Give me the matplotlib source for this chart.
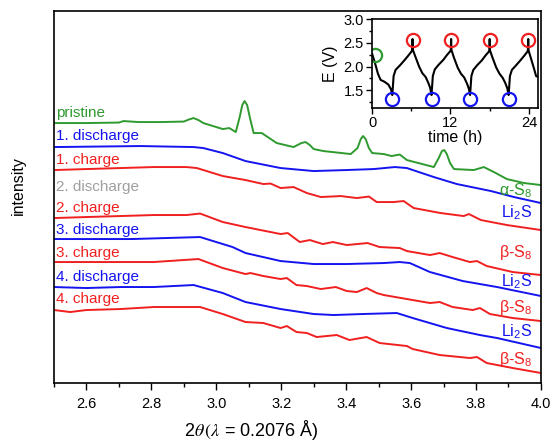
import matplotlib
matplotlib.use('Agg')
import matplotlib.pyplot as plt
from matplotlib.ticker import MultipleLocator

# FONT STUFF
plt.rcParams['font.family'] = ['Liberation Sans', 'DejaVu Sans']
plt.rcParams['mathtext.fontset'] = 'custom'
plt.rcParams['mathtext.rm'] = 'Liberation Sans'
plt.rcParams['mathtext.it'] = 'Liberation Sans:italic'

GREEN = '#2f9a2f'
BLUE = '#1414f0'
RED = '#f02020'
GRAY = '#a0a0a0'

# ---------------- XRD PATTERNS (2theta, intensity a.u., already stacked) ----------------
pristine_x = [2.50, 2.60, 2.70, 2.714, 2.76, 2.83, 2.90, 2.915, 2.93, 2.945, 2.96, 3.02, 3.04, 3.06,
              3.072, 3.08, 3.087, 3.095, 3.103, 3.115, 3.14, 3.186, 3.238, 3.262, 3.275, 3.288,
              3.30, 3.33, 3.414, 3.435, 3.445, 3.452, 3.46, 3.47, 3.48,
              3.516, 3.54, 3.565, 3.587, 3.67, 3.685, 3.695, 3.702, 3.71, 3.72, 3.732, 3.793, 3.824,
              3.855, 3.895, 3.948, 4.00]
pristine_y = [26.0, 26.0, 26.05, 26.2, 26.1, 26.1, 26.15, 26.35, 26.5, 26.3, 26.0, 25.4, 25.5, 25.1,
              26.6, 27.8, 28.2, 27.8, 26.6, 25.0, 25.0, 24.0, 23.6, 24.0, 24.1, 23.8,
              23.4, 23.2, 22.9, 23.5, 24.4, 24.7, 24.4, 23.5, 23.0,
              22.9, 22.7, 22.85, 22.3, 21.6, 22.5, 23.2, 23.3, 22.9, 22.0, 21.4, 21.3, 21.6,
              21.1, 20.4, 20.0, 19.8]

dis1_x = [2.50, 2.767, 2.93, 2.96, 3.02, 3.09, 3.198, 3.30, 3.40, 3.485, 3.55, 3.587, 3.67, 3.741,
          3.846, 3.917, 4.00]
dis1_y = [23.6, 23.7, 23.6, 23.5, 23.0, 22.2, 21.5, 21.2, 21.3, 21.4, 21.6, 21.5, 20.6, 19.9,
          19.2, 18.6, 18.0]

ch1_x = [2.50, 2.60, 2.705, 2.807, 2.908, 2.94, 3.02, 3.09, 3.145, 3.167, 3.198, 3.238, 3.279,
         3.322, 3.383, 3.433, 3.47, 3.494, 3.546, 3.577, 3.608, 3.691, 3.762, 3.778, 3.815, 3.895,
         4.00]
ch1_y = [21.3, 21.4, 21.5, 21.6, 21.6, 21.5, 20.7, 20.3, 19.9, 19.95, 19.5, 19.6, 19.0,
         18.6, 18.7, 18.5, 18.65, 18.1, 18.1, 18.2, 17.5, 17.0, 16.7, 16.9, 16.3, 15.8,
         15.3]

ch2_x = [2.50, 2.60, 2.705, 2.807, 2.908, 2.95, 3.02, 3.09, 3.198, 3.22, 3.257, 3.288, 3.328,
         3.359, 3.402, 3.466, 3.503, 3.565, 3.587, 3.658, 3.688, 3.728, 3.781, 3.803, 3.833,
         3.913, 4.00]
ch2_y = [16.5, 16.6, 16.7, 16.8, 16.8, 16.95, 16.1, 15.6, 14.9, 15.0, 14.1, 14.3, 13.9,
         14.1, 13.8, 14.0, 13.6, 13.5, 13.2, 12.8, 13.0, 12.6, 12.1, 12.2, 11.7,
         11.1, 10.8]

dis3_x = [2.50, 2.74, 2.95, 3.05, 3.09, 3.198, 3.30, 3.40, 3.516, 3.565, 3.596, 3.658, 3.759,
          3.865, 4.00]
dis3_y = [14.4, 14.4, 14.6, 13.6, 13.0, 12.2, 11.9, 11.9, 12.0, 12.1, 12.0, 11.1, 10.2,
          9.6, 8.7]

ch3_x = [2.50, 2.60, 2.705, 2.807, 2.945, 3.02, 3.09, 3.105, 3.145, 3.198, 3.217, 3.247, 3.279,
         3.322, 3.368, 3.402, 3.433, 3.463, 3.494, 3.516, 3.587, 3.658, 3.688, 3.728, 3.79,
         3.812, 3.843, 3.913, 4.00]
ch3_y = [12.1, 12.1, 12.1, 12.1, 12.4, 11.5, 10.9, 11.0, 10.7, 10.4, 10.5, 9.8, 9.7,
         9.4, 9.6, 9.2, 9.1, 9.5, 9.0, 8.8, 8.4, 8.0, 8.1, 7.6, 7.3,
         7.5, 6.9, 6.5, 6.2]

dis4_x = [2.50, 2.60, 2.705, 2.807, 2.93, 3.02, 3.09, 3.198, 3.30, 3.362, 3.45, 3.556, 3.605,
          3.71, 3.812, 3.865, 4.00]
dis4_y = [9.6, 9.5, 9.6, 9.6, 9.8, 9.0, 8.1, 7.4, 6.9, 6.8, 6.9, 7.0, 6.5,
          5.5, 4.8, 4.5, 3.5]

ch4_x = [2.50, 2.55, 2.60, 2.705, 2.807, 2.95, 3.02, 3.09, 3.145, 3.198, 3.217, 3.247, 3.279,
         3.309, 3.371, 3.41, 3.463, 3.503, 3.587, 3.605, 3.688, 3.781, 3.803, 3.833, 3.913, 4.00]
ch4_y = [7.3, 7.1, 7.3, 7.4, 7.6, 7.6, 6.9, 6.1, 6.0, 5.5, 5.7, 5.1, 5.0,
         4.6, 4.8, 4.3, 4.6, 4.0, 3.7, 3.4, 2.8, 2.5, 2.6, 2.0, 1.5, 1.0]

# left-hand labels (text, y position, colour)
left_labels = ['pristine', '1. discharge', '1. charge', '2. discharge', '2. charge',
               '3. discharge', '3. charge', '4. discharge', '4. charge']
left_label_y = [27.0, 24.7, 22.3, 19.6, 17.5, 15.3, 13.0, 10.6, 8.4]
left_label_col = [GREEN, BLUE, RED, GRAY, RED, BLUE, RED, BLUE, RED]

# right-hand phase labels
phase_labels = ['α-S$_8$', 'Li$_2$S', 'β-S$_8$', 'Li$_2$S', 'β-S$_8$', 'Li$_2$S', 'β-S$_8$']
phase_label_y = [19.2, 17.0, 13.1, 10.1, 7.6, 5.1, 2.4]
phase_label_col = [GREEN, BLUE, RED, BLUE, RED, BLUE, RED]

# ---------------- VOLTAGE PROFILE (inset) ----------------
time_h = [0.0, 0.4, 0.9, 1.3, 1.9, 2.5, 2.9, 3.1,
          3.3, 3.6, 4.3, 5.0, 5.6, 6.05, 6.15, 6.2, 6.25, 6.6, 7.2, 7.7, 8.2, 8.6, 8.9, 9.1,
          9.3, 9.6, 10.2, 10.9, 11.5, 11.95, 12.05, 12.1, 12.15, 12.5, 13.1, 13.6, 14.1, 14.5, 14.8, 15.0,
          15.2, 15.5, 16.1, 16.8, 17.4, 17.85, 17.95, 18.0, 18.05, 18.4, 19.0, 19.5, 20.0, 20.4, 20.7, 20.9,
          21.1, 21.4, 22.0, 22.7, 23.3, 23.75, 23.85, 23.9, 23.95, 24.3, 24.8, 25.1, 25.4]
volt = [2.27, 2.1, 1.85, 1.72, 1.68, 1.62, 1.52, 1.40,
        1.80, 1.93, 2.03, 2.14, 2.24, 2.32, 2.35, 2.58, 2.35, 2.22, 2.00, 1.86, 1.78, 1.66, 1.55, 1.40,
        1.80, 1.94, 2.04, 2.14, 2.25, 2.32, 2.35, 2.58, 2.35, 2.20, 1.98, 1.85, 1.77, 1.65, 1.54, 1.40,
        1.80, 1.93, 2.03, 2.13, 2.24, 2.31, 2.34, 2.58, 2.34, 2.20, 1.98, 1.85, 1.76, 1.65, 1.54, 1.40,
        1.80, 1.93, 2.02, 2.13, 2.23, 2.31, 2.34, 2.58, 2.34, 2.18, 1.95, 1.80, 1.78]

start_t, start_E = [0.45], [2.25]
dis_t = [3.1, 9.1, 15.0, 20.9]
dis_E = [1.31, 1.31, 1.31, 1.31]
ch_t = [6.2, 12.1, 18.0, 23.9]
ch_E = [2.57, 2.57, 2.57, 2.57]

# ---------------- MAIN PLOT ----------------
fig = plt.figure(figsize=(5.52, 4.43), dpi=100)
ax = fig.add_axes([0.0978, 0.1354, 0.8822, 0.8396])

curves = [(pristine_x, pristine_y, GREEN), (dis1_x, dis1_y, BLUE), (ch1_x, ch1_y, RED),
          (ch2_x, ch2_y, RED), (dis3_x, dis3_y, BLUE), (ch3_x, ch3_y, RED),
          (dis4_x, dis4_y, BLUE), (ch4_x, ch4_y, RED)]
for cx, cy, col in curves:
    ax.plot(cx, cy, color=col, lw=1.4, solid_joinstyle='round', solid_capstyle='round')

for txt, y, col in zip(left_labels, left_label_y, left_label_col):
    ax.text(2.507, y, txt, color=col, fontsize=11, va='center', ha='left')
for txt, y, col in zip(phase_labels, phase_label_y, phase_label_col):
    ax.text(3.972, y, txt, color=col, fontsize=11.5, va='center', ha='right')

ax.set_xlim(2.5, 4.0)
ax.set_ylim(0, 37.2)
ax.xaxis.set_minor_locator(MultipleLocator(0.1))
ax.set_xticks([2.6, 2.8, 3.0, 3.2, 3.4, 3.6, 3.8, 4.0])
ax.set_yticks([])
ax.tick_params(axis='x', which='major', length=5, width=1, labelsize=10.5, pad=5)
ax.tick_params(axis='x', which='minor', length=3, width=1)
for s in ax.spines.values():
    s.set_linewidth(1.2)

ax.set_xlabel(r'2$\theta\,(\lambda$ = 0.2076 Å)', fontsize=13, math_fontfamily='stix')
ax.xaxis.set_label_coords(0.405, -0.095)
ax.set_ylabel('intensity', fontsize=11.5)
ax.yaxis.set_label_coords(-0.058, 0.53)

# ---------------- INSET ----------------
ins = fig.add_axes([0.674, 0.756, 0.3007, 0.2009])
ins.plot(time_h, volt, color='black', lw=1.5, solid_joinstyle='round')
mk = dict(marker='o', ls='none', mfc='none', ms=9.5, mew=1.6)
ins.plot(start_t, start_E, mec=GREEN, **mk)
ins.plot(dis_t, dis_E, mec=BLUE, **mk)
ins.plot(ch_t, ch_E, mec=RED, **mk)

ins.set_xlim(0, 25.4)
ins.set_ylim(1.125, 3.0)
ins.set_xticks([0, 12, 24])
ins.xaxis.set_minor_locator(MultipleLocator(6))
ins.set_yticks([1.5, 2.0, 2.5, 3.0])
ins.yaxis.set_minor_locator(MultipleLocator(0.25))
ins.tick_params(which='major', length=4, width=1, labelsize=10.5, pad=2)
ins.tick_params(which='minor', length=2.5, width=1)
ins.set_xlabel('time (h)', fontsize=11.5, labelpad=0)
ins.set_ylabel('E (V)', fontsize=11.5, labelpad=4)
for s in ins.spines.values():
    s.set_linewidth(1.2)

fig.savefig('out.png', dpi=100)
